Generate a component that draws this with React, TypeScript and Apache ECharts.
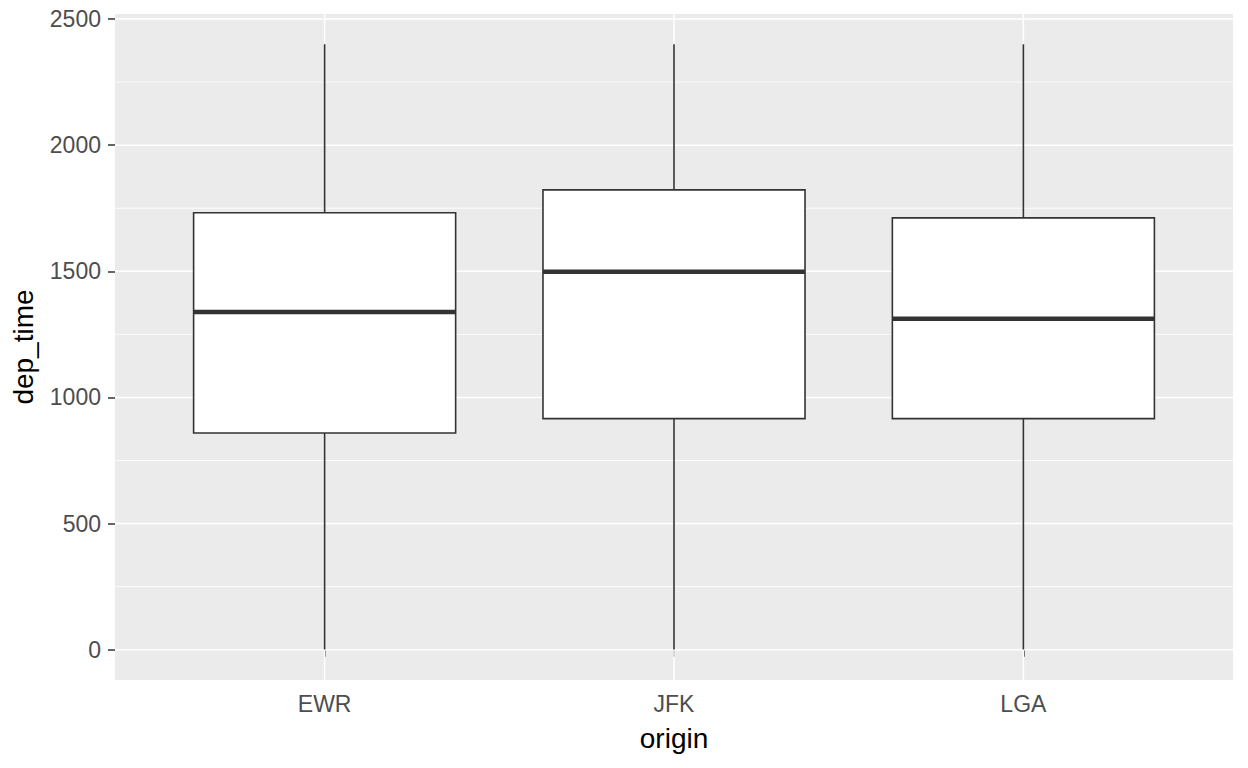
import React, { useRef, useEffect } from 'react'
import * as echarts from 'echarts'

// dep_time by origin
const origins = ['EWR', 'JFK', 'LGA']
const positions = [1, 2, 3]
const whiskerLow = [1, 1, 1]
const q1 = [859, 916, 916]
const medians = [1339, 1498, 1312]
const q3 = [1732, 1823, 1712]
const whiskerHigh = [2400, 2400, 2400]

const majorTicks = [0, 500, 1000, 1500, 2000, 2500]
const minorTicks = [250, 750, 1250, 1750, 2250]

const FONT = '"Liberation Sans", Arial, sans-serif'
const INK = '#333333'

const App: React.FC = () => {
  const chartRef = useRef<HTMLDivElement>(null)

  useEffect(() => {
    if (!chartRef.current) return
    const chart = echarts.init(chartRef.current, undefined, { renderer: 'svg' })

    const boxData = positions.map((p, i) => [p, whiskerLow[i], q1[i], medians[i], q3[i], whiskerHigh[i]])
    const hGridData = [...minorTicks.map(v => [v, 0.8]), ...majorTicks.map(v => [v, 1.5])]
    const vGridData = positions.map(p => [p, 1.5])

    chart.setOption({
      animation: false,
      textStyle: { fontFamily: FONT },
      grid: {
        left: 115,
        right: 15,
        top: 14,
        bottom: 88,
        show: true,
        backgroundColor: '#EBEBEB',
        borderWidth: 0,
        outerBoundsMode: 'none',
      },
      xAxis: {
        type: 'value',
        min: 0.4,
        max: 3.6,
        axisLine: { show: false },
        axisTick: { show: true, length: 7, customValues: positions, lineStyle: { color: INK, width: 1.5 } },
        axisLabel: {
          color: '#4D4D4D',
          fontSize: 23,
          margin: 12,
          fontFamily: FONT,
          customValues: positions,
          formatter: (v: number) => origins[Math.round(v) - 1] ?? '',
        },
        splitLine: { show: false },
      },
      yAxis: {
        type: 'value',
        min: -119.95,
        max: 2519.95,
        axisLine: { show: false },
        axisTick: { show: true, length: 7, customValues: majorTicks, lineStyle: { color: INK, width: 1.5 } },
        axisLabel: {
          color: '#4D4D4D',
          fontSize: 23,
          margin: 14,
          fontFamily: FONT,
          customValues: majorTicks,
          formatter: (v: number) => String(v),
        },
        splitLine: { show: false },
      },
      graphic: [
        {
          type: 'text',
          x: 674,
          y: 738,
          style: { text: 'origin', fontSize: 28, fontFamily: FONT, fill: '#000', textAlign: 'center', textVerticalAlign: 'middle' },
        },
        {
          type: 'text',
          x: 23,
          y: 347,
          rotation: Math.PI / 2,
          style: { text: 'dep_time', fontSize: 28, fontFamily: FONT, fill: '#000', textAlign: 'center', textVerticalAlign: 'middle' },
        },
      ],
      series: [
        {
          // horizontal panel grid lines
          type: 'custom',
          z: 1,
          silent: true,
          data: hGridData,
          encode: { y: 0 },
          renderItem: (params: any, api: any) => {
            const cs = params.coordSys
            const y = api.coord([1, api.value(0)])[1]
            return {
              type: 'line',
              shape: { x1: cs.x, y1: y, x2: cs.x + cs.width, y2: y },
              style: { stroke: '#ffffff', lineWidth: api.value(1) },
            }
          },
        },
        {
          // vertical panel grid lines
          type: 'custom',
          z: 1,
          silent: true,
          data: vGridData,
          encode: { x: 0 },
          renderItem: (params: any, api: any) => {
            const cs = params.coordSys
            const x = api.coord([api.value(0), 0])[0]
            return {
              type: 'line',
              shape: { x1: x, y1: cs.y, x2: x, y2: cs.y + cs.height },
              style: { stroke: '#ffffff', lineWidth: api.value(1) },
            }
          },
        },
        {
          type: 'custom',
          z: 3,
          silent: true,
          data: boxData,
          encode: { x: 0, y: [1, 2, 3, 4, 5] },
          renderItem: (params: any, api: any) => {
            const pos = api.value(0)
            const low = api.coord([pos, api.value(1)])
            const lower = api.coord([pos, api.value(2)])
            const mid = api.coord([pos, api.value(3)])
            const upper = api.coord([pos, api.value(4)])
            const high = api.coord([pos, api.value(5)])
            const half = api.size([0.75, 0])[0] / 2
            const cx = low[0]
            const thin = { stroke: INK, lineWidth: 1.6 }
            return {
              type: 'group',
              children: [
                { type: 'line', shape: { x1: cx, y1: high[1], x2: cx, y2: upper[1] }, style: thin },
                { type: 'line', shape: { x1: cx, y1: lower[1], x2: cx, y2: low[1] }, style: thin },
                {
                  type: 'rect',
                  shape: { x: cx - half, y: upper[1], width: half * 2, height: lower[1] - upper[1] },
                  style: { fill: '#ffffff', ...thin },
                },
                { type: 'line', shape: { x1: cx - half, y1: mid[1], x2: cx + half, y2: mid[1] }, style: { stroke: INK, lineWidth: 4.5 } },
              ],
            }
          },
        },
      ],
    })

    return () => {
      chart.dispose()
    }
  }, [])

  return (
    <div
      ref={chartRef}
      style={{ position: 'fixed', left: 0, top: 0, width: '1248px', height: '768px', background: '#fff' }}
    />
  )
}

export default App
